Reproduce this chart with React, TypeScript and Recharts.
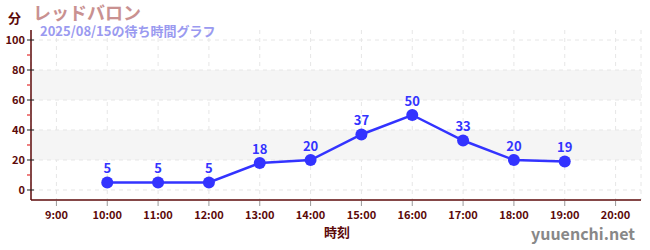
import React from "react";
import {
  LineChart,
  Line,
  XAxis,
  YAxis,
  CartesianGrid,
  ReferenceArea,
  ReferenceLine,
  LabelList,
} from "recharts";

const HOURS = [10, 11, 12, 13, 14, 15, 16, 17, 18, 19];
const WAIT_MINUTES = [5, 5, 5, 18, 20, 37, 50, 33, 20, 19];
const X_TICKS = [9, 10, 11, 12, 13, 14, 15, 16, 17, 18, 19, 20];
const Y_MAJOR = [0, 20, 40, 60, 80, 100];
const Y_MINOR = [10, 30, 50, 70, 90];
const BANDS: [number, number][] = [
  [20, 40],
  [60, 80],
];

const FONT = "'Noto Sans CJK JP', 'Noto Sans', sans-serif";
const AXIS = "#5c0a0a";
const LINE = "#3333ff";

const data = HOURS.map((h, i) => ({ hour: h, wait: WAIT_MINUTES[i] }));

// labelled tick with a short mark crossing the axis line
function YTick(props: any) {
  const { x, y, payload } = props;
  return (
    <g>
      <line x1={x + 4} x2={x + 11} y1={y} y2={y} stroke="#222" strokeWidth={1} />
      <text
        x={x + 2}
        y={y}
        dy={4}
        textAnchor="end"
        fontSize={11}
        fontWeight={600}
        fill={AXIS}
        fontFamily={FONT}
      >
        {payload.value}
      </text>
    </g>
  );
}

// small red mark just left of the axis, between labelled ticks
function MinorMark(props: any) {
  const { x1, y1 } = props;
  return <line x1={x1 - 4} x2={x1 - 1} y1={y1} y2={y1} stroke="#dd0000" strokeWidth={1} />;
}

function XTick(props: any) {
  const { x, y, payload } = props;
  return (
    <g>
      <line x1={x} x2={x} y1={y - 7} y2={y - 2} stroke="#999" strokeWidth={1} />
      <text
        x={x}
        y={y}
        dy={11}
        textAnchor="middle"
        fontSize={11}
        fontWeight={600}
        fill={AXIS}
        fontFamily={FONT}
      >
        {`${payload.value}:00`}
      </text>
    </g>
  );
}

export default function App() {
  return (
    <div style={{ position: "absolute", left: 0, top: 0, width: 650, height: 250, background: "#fff", fontFamily: FONT }}>
      <LineChart
        width={650}
        height={250}
        data={data}
        margin={{ top: 30, right: 9, left: 0, bottom: 30 }}
      >
        {BANDS.map(([a, b]) => (
          <ReferenceArea key={a} y1={a} y2={b} fill="#f5f5f5" fillOpacity={1} stroke="none" />
        ))}
        <CartesianGrid horizontal={false} stroke="#e6e6e6" strokeDasharray="4 4" />
        {Y_MAJOR.map((v) => (
          <ReferenceLine key={v} y={v} stroke="#e6e6e6" strokeDasharray="4 4" />
        ))}
        {Y_MINOR.map((v) => (
          <ReferenceLine key={`m${v}`} y={v} ifOverflow="visible" shape={MinorMark} />
        ))}
        <XAxis
          dataKey="hour"
          type="number"
          domain={[8.5, 20.5]}
          ticks={X_TICKS}
          interval={0}
          minTickGap={0}
          height={20}
          tickLine={false}
          tick={<XTick />}
          axisLine={{ stroke: AXIS, strokeWidth: 1.5 }}
        />
        <YAxis
          type="number"
          domain={[-6.67, 106.67]}
          ticks={Y_MAJOR}
          interval={0}
          minTickGap={0}
          width={31}
          tickLine={false}
          tick={<YTick />}
          axisLine={{ stroke: AXIS, strokeWidth: 1.5 }}
        />
        <Line
          dataKey="wait"
          stroke={LINE}
          strokeWidth={2.5}
          dot={{ r: 6, fill: LINE, stroke: LINE, strokeWidth: 0 }}
          isAnimationActive={false}
        >
          <LabelList
            dataKey="wait"
            position="top"
            offset={9}
            fill={LINE}
            fontSize={13}
            fontWeight={700}
            fontFamily={FONT}
          />
        </Line>
        <text x={8} y={23} fontSize={13} fontWeight={700} fill={AXIS} fontFamily={FONT}>
          分
        </text>
        <text x={33} y={20} fontSize={18} fontWeight={700} fill="#c99191" fontFamily={FONT}>
          レッドバロン
        </text>
        <text x={40} y={36} fontSize={13} fontWeight={600} fill="#9a9af0" fontFamily={FONT}>
          2025/08/15の待ち時間グラフ
        </text>
        <text x={337} y={237} textAnchor="middle" fontSize={13} fontWeight={700} fill={AXIS} fontFamily={FONT}>
          時刻
        </text>
        <text x={635} y={240} textAnchor="end" fontSize={16} fontWeight={600} fill="#888" fontFamily={FONT}>
          yuuenchi.net
        </text>
      </LineChart>
    </div>
  );
}
